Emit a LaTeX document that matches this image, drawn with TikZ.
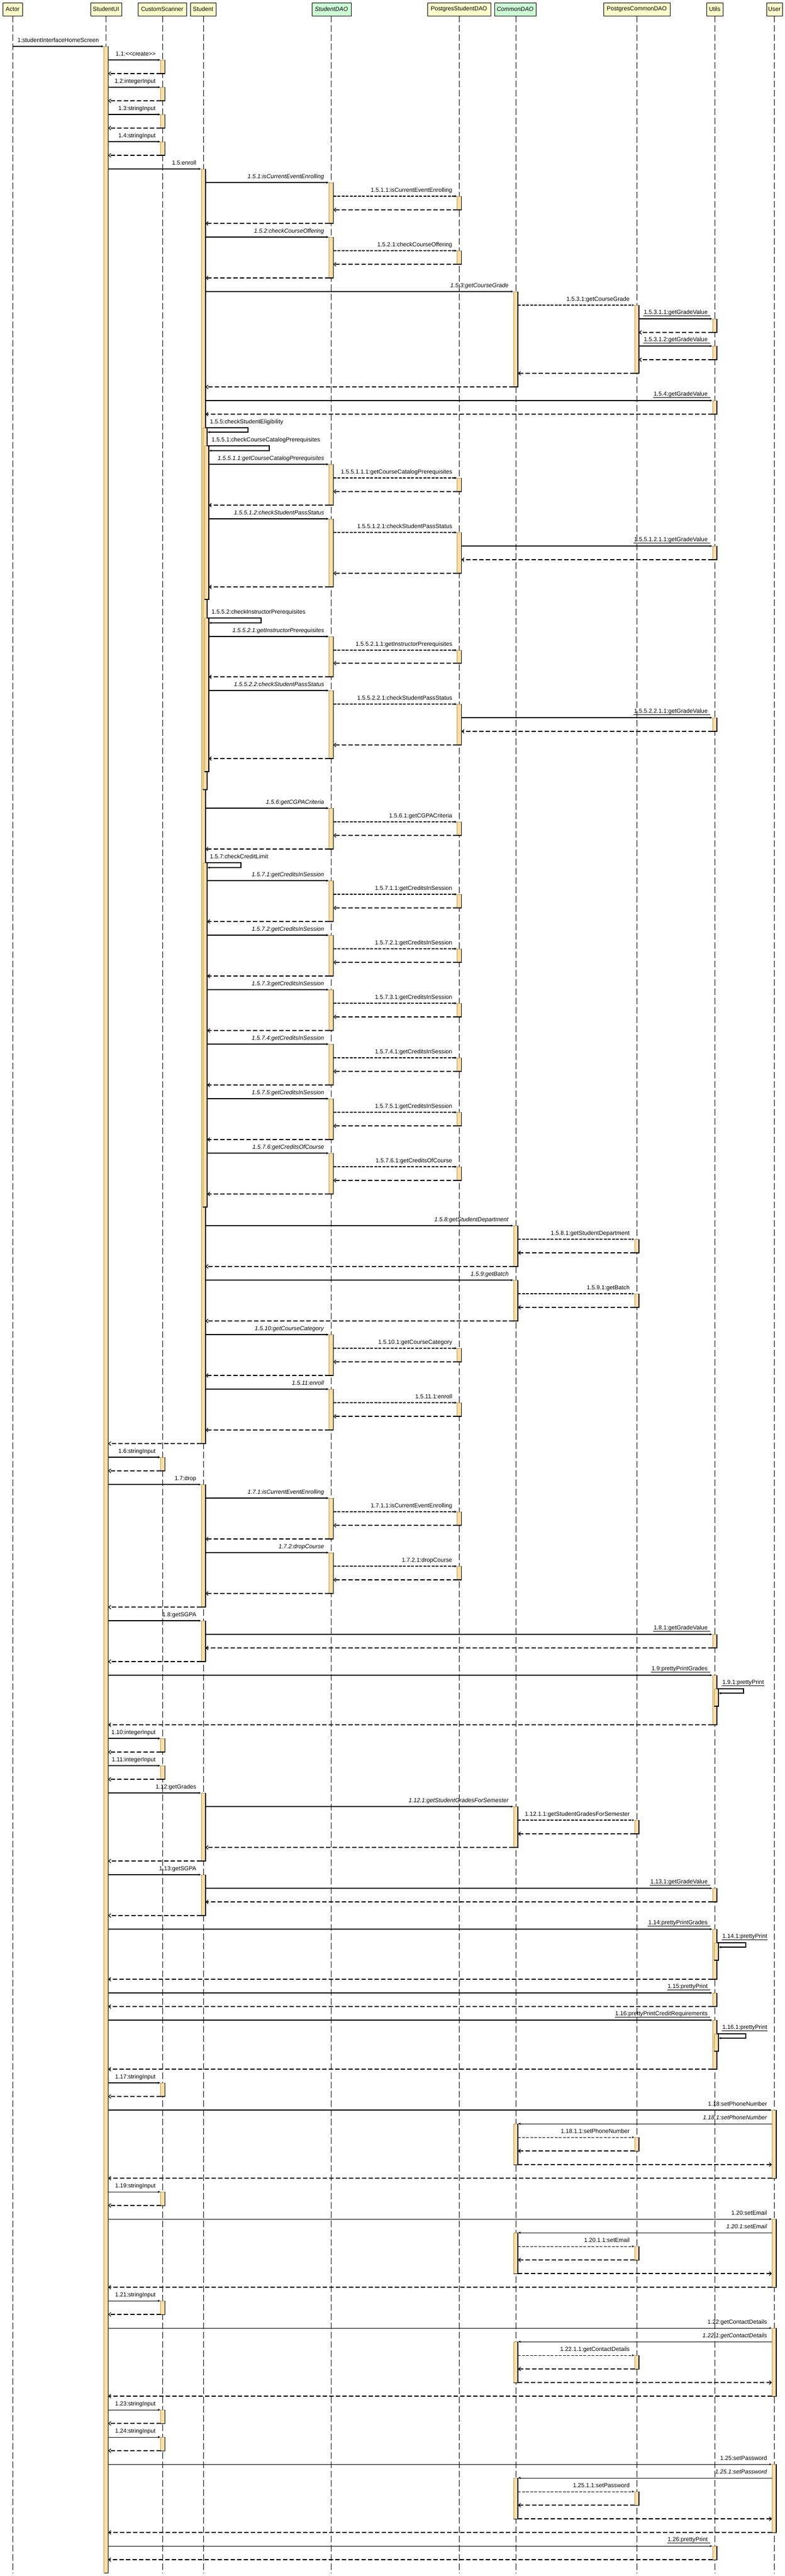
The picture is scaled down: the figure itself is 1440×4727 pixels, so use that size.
\documentclass[tikz,border=0pt]{standalone}
\usepackage{fontspec}
\setmainfont{Liberation Sans}
\usetikzlibrary{arrows.meta}
\definecolor{barfill}{RGB}{255,222,165}
\definecolor{baredgec}{RGB}{190,150,80}
\definecolor{headyellow}{RGB}{255,255,204}
\definecolor{headgreen}{RGB}{204,255,214}
\newcommand\lblfont{\fontsize{10.8}{13}\selectfont}
\tikzset{
  lbl/.style={inner sep=0pt, outer sep=0pt, font=\lblfont},
  call/.style={line width=1.1pt, -{Latex[length=4.5pt,width=4pt]}},
  dcall/.style={line width=1.1pt, dash pattern=on 5pt off 2.5pt, -{Latex[length=4.5pt,width=4pt]}},
  ret/.style={line width=1.2pt, dash pattern=on 8pt off 4pt, -{Straight Barb[length=4pt,width=7pt]}},
  life/.style={line width=0.8pt, dash pattern=on 12pt off 5pt},
  uline/.style={line width=1pt},
  head/.style={draw, line width=0.8pt, fill=headyellow, minimum height=24pt, inner sep=1pt, font=\lblfont},
  headg/.style={head, fill=headgreen, font=\lblfont\itshape},
  headedge/.style={line width=1.6pt},
  actbox/.style={fill=barfill, inner sep=0pt, outer sep=0pt, minimum width=8pt},
  baredge/.style={line width=1.1pt},
  baredgel/.style={line width=0.6pt, baredgec}
}
\newcommand\actbar[5]{%
  \pgfmathsetmacro\bh{#5-#4}%
  \node[actbox, minimum height=\bh pt, anchor=north] (#1) at ({#2+3*#3},#4) {};
  \draw[baredgel] (#1.south west) -- (#1.north west) -- (#1.north east);
  \draw[baredge] (#1.north east) -- (#1.south east) -- (#1.south west);}
\newcommand\callm[7]{%
  \coordinate (#1s) at (#2,#4);
  \coordinate (#1e) at (#3,#4);
  \draw[#5] (#1s) -- (#1e);
  \node[lbl,anchor=base east] (#1l) at (#6-13,#4-8) {#7};}
\newcommand\callu[6]{%
  \coordinate (#1s) at (#2,#4);
  \coordinate (#1e) at (#3,#4);
  \draw[call] (#1s) -- (#1e);
  \node[lbl,anchor=base east] (#1l) at (#5-13,#4-9) {#6};
  \draw[uline] ([xshift=-1pt,yshift=-3pt]#1l.base west) -- ([xshift=5pt,yshift=-3pt]#1l.base east);}
\newcommand\retm[4]{%
  \coordinate (#1s) at (#2,#4);
  \coordinate (#1e) at (#3,#4);
  \draw[ret] (#1s) -- (#1e);}
\newcommand\selfm[7]{%
  \coordinate (#1s) at (#2,#4);
  \coordinate (#1a) at (#3,#4);
  \coordinate (#1b) at (#3,#5);
  \coordinate (#1e) at (#6,#5);
  \draw[call] (#1s) -- (#1a) -- (#1b) -- (#1e);
  \node[lbl,anchor=base west] (#1l) at (#2+8,#4-8) {#7};}
\newcommand\selfu[7]{%
  \coordinate (#1s) at (#2,#4);
  \coordinate (#1a) at (#3,#4);
  \coordinate (#1b) at (#3,#5);
  \coordinate (#1e) at (#6,#5);
  \draw[call] (#1s) -- (#1a) -- (#1b) -- (#1e);
  \node[lbl,anchor=base west] (#1l) at (#2+10,#4-9) {#7};
  \draw[uline] ([xshift=-1pt,yshift=-3pt]#1l.base west) -- ([xshift=1pt,yshift=-3pt]#1l.base east);}
\begin{document}
\begin{tikzpicture}[x=1pt,y=-1pt]
\useasboundingbox (0,0) rectangle (1440,4727);
\fill[white] (0,0) rectangle (1440,4727);
\coordinate (bottom) at (0,4722);
% ---------- headers ----------
\node[head, minimum width=36pt]  (hA)  at (23,17)    {Actor};
\node[head, minimum width=57pt]  (hUI) at (194.5,17) {StudentUI};
\node[head, minimum width=89pt]  (hCS) at (297.5,17) {CustomScanner};
\node[head, minimum width=47pt]  (hST) at (372.5,17) {Student};
\node[headg, minimum width=72pt] (hSD) at (608,17)   {StudentDAO};
\node[head, minimum width=116pt] (hPS) at (842,17)   {PostgresStudentDAO};
\node[headg, minimum width=76pt] (hCD) at (945,17)   {CommonDAO};
\node[head, minimum width=122pt] (hPC) at (1168,17)  {PostgresCommonDAO};
\node[head, minimum width=30pt]  (hUT) at (1311,17)  {Utils};
\node[head, minimum width=29pt]  (hUS) at (1420.5,17) {User};
\foreach \h in {hA,hUI,hCS,hST,hSD,hPS,hCD,hPC,hUT,hUS}{
  \draw[headedge] (\h.north east) -- (\h.south east) -- (\h.south west);
}
% ---------- lifelines ----------
\foreach \h/\x in {hA/23,hUI/194.5,hCS/298.5,hST/373,hSD/607.5,hPS/842.5,hCD/946,hPC/1168,hUT/1311,hUS/1420}{
  \coordinate (l\h) at (\x,4722);
  \coordinate (t\h) at (\x,29);
  \draw[life] (t\h) -- (l\h);
}
% ---------- activation bars ----------
\actbar{bUI}{194.5}{0}{85}{4721}
\foreach \a/\b [count=\i] in {110/135,160/185,210/235,260/285,2674/2699,3190/3215,3240/3265,3822/3847,4022/4047,4222/4247,4422/4447,4472/4497}{
  \actbar{bCS\i}{298.5}{0}{\a}{\b}}
\foreach \a/\b [count=\i] in {310/2649,2724/2949,2974/3049,3290/3415,3440/3515}{
  \actbar{bST\i}{373}{0}{\a}{\b}}
\foreach \a/\b [count=\i] in {785/1449,1583/2215}{
  \actbar{bSTa\i}{373}{1}{\a}{\b}}
\foreach \a/\b [count=\i] in {818/1100,1134/1416}{
  \actbar{bSTb\i}{373}{2}{\a}{\b}}
\foreach \a/\b [count=\i] in {335/410,435/510,852/927,952/1077,1168/1242,1267/1392,1483/1558,1616/1691,1716/1791,1816/1891,1916/1991,2016/2091,2116/2191,2449/2524,2549/2624,2749/2824,2849/2924}{
  \actbar{bSD\i}{607.5}{0}{\a}{\b}}
\foreach \a/\b [count=\i] in {360/385,460/485,877/902,977/1052,1193/1217,1292/1367,1508/1533,1641/1666,1741/1766,1841/1866,1941/1966,2041/2066,2141/2166,2474/2499,2574/2599,2774/2799,2874/2899}{
  \actbar{bPS\i}{842.5}{0}{\a}{\b}}
\foreach \a/\b [count=\i] in {535/710,2249/2324,2349/2424,3315/3390,3897/3972,4097/4172,4297/4372,4547/4622}{
  \actbar{bCD\i}{946}{0}{\a}{\b}}
\foreach \a/\b [count=\i] in {560/685,2274/2299,2374/2399,3340/3365,3922/3947,4122/4147,4322/4347,4572/4597}{
  \actbar{bPC\i}{1168}{0}{\a}{\b}}
\foreach \a/\b [count=\i] in {585/610,635/660,735/760,1002/1027,1317/1342,2999/3024,3074/3165,3465/3490,3540/3632,3657/3682,3707/3797,4672/4697}{
  \actbar{bUT\i}{1311}{0}{\a}{\b}}
\foreach \a/\b [count=\i] in {3099/3131,3565/3597,3732/3764}{
  \actbar{bUTa\i}{1311}{1}{\a}{\b}}
\foreach \a/\b [count=\i] in {3872/3997,4072/4197,4272/4397,4522/4647}{
  \actbar{bUS\i}{1420}{0}{\a}{\b}}
% ---------- messages ----------
\callm{m1}{23}{190.5}{85}{call}{194.5}{1:studentInterfaceHomeScreen}
\callm{m11}{198.5}{294.5}{110}{call}{298.5}{1.1:<\kern0pt<create>\kern0pt>}
\retm{r11}{294.5}{198.5}{135}
\callm{m12}{198.5}{294.5}{160}{call}{298.5}{1.2:integerInput}
\retm{r12}{294.5}{198.5}{185}
\callm{m13}{198.5}{294.5}{210}{call}{298.5}{1.3:stringInput}
\retm{r13}{294.5}{198.5}{235}
\callm{m14}{198.5}{294.5}{260}{call}{298.5}{1.4:stringInput}
\retm{r14}{294.5}{198.5}{285}
\callm{m15}{198.5}{369}{310}{call}{373}{1.5:enroll}
\callm{m151}{377}{603.5}{335}{call}{607.5}{\textit{1.5.1:isCurrentEventEnrolling}}
\callm{m1511}{611.5}{838.5}{360}{dcall}{842.5}{1.5.1.1:isCurrentEventEnrolling}
\retm{r1511}{838.5}{611.5}{385}
\retm{r151}{603.5}{377}{410}
\callm{m152}{377}{603.5}{435}{call}{607.5}{\textit{1.5.2:checkCourseOffering}}
\callm{m1521}{611.5}{838.5}{460}{dcall}{842.5}{1.5.2.1:checkCourseOffering}
\retm{r1521}{838.5}{611.5}{485}
\retm{r152}{603.5}{377}{510}
\callm{m153}{377}{942}{535}{call}{946}{\textit{1.5.3:getCourseGrade}}
\callm{m1531}{950}{1164}{560}{dcall}{1168}{1.5.3.1:getCourseGrade}
\callu{m15311}{1172}{1307}{585}{1311}{1.5.3.1.1:getGradeValue}
\retm{r15311}{1307}{1172}{610}
\callu{m15312}{1172}{1307}{635}{1311}{1.5.3.1.2:getGradeValue}
\retm{r15312}{1307}{1172}{660}
\retm{r1531}{1164}{950}{685}
\retm{r153}{942}{377}{710}
\callu{m154}{377}{1307}{735}{1311}{1.5.4:getGradeValue}
\retm{r154}{1307}{377}{760}
\selfm{m155}{377}{455}{785}{793}{380}{1.5.5:checkStudentEligibility}
\selfm{m1551}{380}{494}{818}{827}{383}{1.5.5.1:checkCourseCatalogPrerequisites}
\callm{m15511}{383}{603.5}{852}{call}{607.5}{\textit{1.5.5.1.1:getCourseCatalogPrerequisites}}
\callm{m155111}{611.5}{838.5}{877}{dcall}{842.5}{1.5.5.1.1.1:getCourseCatalogPrerequisites}
\retm{r155111}{838.5}{611.5}{902}
\retm{r15511}{603.5}{383}{927}
\callm{m15512}{383}{603.5}{952}{call}{607.5}{\textit{1.5.5.1.2:checkStudentPassStatus}}
\callm{m155121}{611.5}{838.5}{977}{dcall}{842.5}{1.5.5.1.2.1:checkStudentPassStatus}
\callu{m1551211}{846.5}{1307}{1002}{1311}{1.5.5.1.2.1.1:getGradeValue}
\retm{r1551211}{1307}{846.5}{1027}
\retm{r155121}{838.5}{611.5}{1052}
\retm{r15512}{603.5}{383}{1077}
\selfm{m1552}{380}{479}{1134}{1143}{383}{1.5.5.2:checkInstructorPrerequisites}
\callm{m15521}{383}{603.5}{1168}{call}{607.5}{\textit{1.5.5.2.1:getInstructorPrerequisites}}
\callm{m155211}{611.5}{838.5}{1193}{dcall}{842.5}{1.5.5.2.1.1:getInstructorPrerequisites}
\retm{r155211}{838.5}{611.5}{1217}
\retm{r15521}{603.5}{383}{1242}
\callm{m15522}{383}{603.5}{1267}{call}{607.5}{\textit{1.5.5.2.2:checkStudentPassStatus}}
\callm{m155221}{611.5}{838.5}{1292}{dcall}{842.5}{1.5.5.2.2.1:checkStudentPassStatus}
\callu{m1552211}{846.5}{1307}{1317}{1311}{1.5.5.2.2.1.1:getGradeValue}
\retm{r1552211}{1307}{846.5}{1342}
\retm{r155221}{838.5}{611.5}{1367}
\retm{r15522}{603.5}{383}{1392}
\callm{m156}{377}{603.5}{1483}{call}{607.5}{\textit{1.5.6:getCGPACriteria}}
\callm{m1561}{611.5}{838.5}{1508}{dcall}{842.5}{1.5.6.1:getCGPACriteria}
\retm{r1561}{838.5}{611.5}{1533}
\retm{r156}{603.5}{377}{1558}
\selfm{m157}{377}{442}{1583}{1592}{380}{1.5.7:checkCreditLimit}
\foreach \k/\y in {1/1616,2/1716,3/1816,4/1916,5/2016}{
  \callm{m157\k}{380}{603.5}{\y}{call}{607.5}{\textit{1.5.7.\k:getCreditsInSession}}
  \callm{m157\k x}{611.5}{838.5}{\y+25}{dcall}{842.5}{1.5.7.\k.1:getCreditsInSession}
  \retm{r157\k x}{838.5}{611.5}{\y+50}
  \retm{r157\k}{603.5}{380}{\y+75}
}
\callm{m1576}{380}{603.5}{2116}{call}{607.5}{\textit{1.5.7.6:getCreditsOfCourse}}
\callm{m15761}{611.5}{838.5}{2141}{dcall}{842.5}{1.5.7.6.1:getCreditsOfCourse}
\retm{r15761}{838.5}{611.5}{2166}
\retm{r1576}{603.5}{380}{2191}
\callm{m158}{377}{942}{2249}{call}{946}{\textit{1.5.8:getStudentDepartment}}
\callm{m1581}{950}{1164}{2274}{dcall}{1168}{1.5.8.1:getStudentDepartment}
\retm{r1581}{1164}{950}{2299}
\retm{r158}{942}{377}{2324}
\callm{m159}{377}{942}{2349}{call}{946}{\textit{1.5.9:getBatch}}
\callm{m1591}{950}{1164}{2374}{dcall}{1168}{1.5.9.1:getBatch}
\retm{r1591}{1164}{950}{2399}
\retm{r159}{942}{377}{2424}
\callm{m1510}{377}{603.5}{2449}{call}{607.5}{\textit{1.5.10:getCourseCategory}}
\callm{m15101}{611.5}{838.5}{2474}{dcall}{842.5}{1.5.10.1:getCourseCategory}
\retm{r15101}{838.5}{611.5}{2499}
\retm{r1510}{603.5}{377}{2524}
\callm{m1511b}{377}{603.5}{2549}{call}{607.5}{\textit{1.5.11:enroll}}
\callm{m15111}{611.5}{838.5}{2574}{dcall}{842.5}{1.5.11.1:enroll}
\retm{r15111}{838.5}{611.5}{2599}
\retm{r1511b}{603.5}{377}{2624}
\retm{r15}{369}{198.5}{2649}
\callm{m16}{198.5}{294.5}{2674}{call}{298.5}{1.6:stringInput}
\retm{r16}{294.5}{198.5}{2699}
\callm{m17}{198.5}{369}{2724}{call}{373}{1.7:drop}
\callm{m171}{377}{603.5}{2749}{call}{607.5}{\textit{1.7.1:isCurrentEventEnrolling}}
\callm{m1711}{611.5}{838.5}{2774}{dcall}{842.5}{1.7.1.1:isCurrentEventEnrolling}
\retm{r1711}{838.5}{611.5}{2799}
\retm{r171}{603.5}{377}{2824}
\callm{m172}{377}{603.5}{2849}{call}{607.5}{\textit{1.7.2:dropCourse}}
\callm{m1721}{611.5}{838.5}{2874}{dcall}{842.5}{1.7.2.1:dropCourse}
\retm{r1721}{838.5}{611.5}{2899}
\retm{r172}{603.5}{377}{2924}
\retm{r17}{369}{198.5}{2949}
\callm{m18}{198.5}{369}{2974}{call}{373}{1.8:getSGPA}
\callu{m181}{377}{1307}{2999}{1311}{1.8.1:getGradeValue}
\retm{r181}{1307}{377}{3024}
\retm{r18}{369}{198.5}{3049}
\callu{m19}{198.5}{1307}{3074}{1311}{1.9:prettyPrintGrades}
\selfu{m191}{1315}{1364}{3099}{3107}{1318}{1.9.1:prettyPrint}
\retm{r19}{1307}{198.5}{3165}
\callm{m110}{198.5}{294.5}{3190}{call}{298.5}{1.10:integerInput}
\retm{r110}{294.5}{198.5}{3215}
\callm{m111}{198.5}{294.5}{3240}{call}{298.5}{1.11:integerInput}
\retm{r111}{294.5}{198.5}{3265}
\callm{m112}{198.5}{369}{3290}{call}{373}{1.12:getGrades}
\callm{m1121}{377}{942}{3315}{call}{946}{\textit{1.12.1:getStudentGradesForSemester}}
\callm{m11211}{950}{1164}{3340}{dcall}{1168}{1.12.1.1:getStudentGradesForSemester}
\retm{r11211}{1164}{950}{3365}
\retm{r1121}{942}{377}{3390}
\retm{r112}{369}{198.5}{3415}
\callm{m113}{198.5}{369}{3440}{call}{373}{1.13:getSGPA}
\callu{m1131}{377}{1307}{3465}{1311}{1.13.1:getGradeValue}
\retm{r1131}{1307}{377}{3490}
\retm{r113}{369}{198.5}{3515}
\callu{m114}{198.5}{1307}{3540}{1311}{1.14:prettyPrintGrades}
\selfu{m1141}{1315}{1368}{3565}{3573}{1318}{1.14.1:prettyPrint}
\retm{r114}{1307}{198.5}{3632}
\callu{m115}{198.5}{1307}{3657}{1311}{1.15:prettyPrint}
\retm{r115}{1307}{198.5}{3682}
\callu{m116}{198.5}{1307}{3707}{1311}{1.16:prettyPrintCreditRequirements}
\selfu{m1161}{1315}{1368}{3732}{3740}{1318}{1.16.1:prettyPrint}
\retm{r116}{1307}{198.5}{3797}
\callm{m117}{198.5}{294.5}{3822}{call}{298.5}{1.17:stringInput}
\retm{r117}{294.5}{198.5}{3847}
\callm{m118}{198.5}{1416}{3872}{call}{1420}{1.18:setPhoneNumber}
\callm{m1181}{1416}{950}{3897}{call}{1420}{\textit{1.18.1:setPhoneNumber}}
\callm{m11811}{950}{1164}{3922}{dcall}{1168}{1.18.1.1:setPhoneNumber}
\retm{r11811}{1164}{950}{3947}
\retm{r1181}{950}{1416}{3972}
\retm{r118}{1416}{198.5}{3997}
\callm{m119}{198.5}{294.5}{4022}{call}{298.5}{1.19:stringInput}
\retm{r119}{294.5}{198.5}{4047}
\callm{m120}{198.5}{1416}{4072}{call}{1420}{1.20:setEmail}
\callm{m1201}{1416}{950}{4097}{call}{1420}{\textit{1.20.1:setEmail}}
\callm{m12011}{950}{1164}{4122}{dcall}{1168}{1.20.1.1:setEmail}
\retm{r12011}{1164}{950}{4147}
\retm{r1201}{950}{1416}{4172}
\retm{r120}{1416}{198.5}{4197}
\callm{m121}{198.5}{294.5}{4222}{call}{298.5}{1.21:stringInput}
\retm{r121}{294.5}{198.5}{4247}
\callm{m122}{198.5}{1416}{4272}{call}{1420}{1.22:getContactDetails}
\callm{m1221}{1416}{950}{4297}{call}{1420}{\textit{1.22.1:getContactDetails}}
\callm{m12211}{950}{1164}{4322}{dcall}{1168}{1.22.1.1:getContactDetails}
\retm{r12211}{1164}{950}{4347}
\retm{r1221}{950}{1416}{4372}
\retm{r122}{1416}{198.5}{4397}
\callm{m123}{198.5}{294.5}{4422}{call}{298.5}{1.23:stringInput}
\retm{r123}{294.5}{198.5}{4447}
\callm{m124}{198.5}{294.5}{4472}{call}{298.5}{1.24:stringInput}
\retm{r124}{294.5}{198.5}{4497}
\callm{m125}{198.5}{1416}{4522}{call}{1420}{1.25:setPassword}
\callm{m1251}{1416}{950}{4547}{call}{1420}{\textit{1.25.1:setPassword}}
\callm{m12511}{950}{1164}{4572}{dcall}{1168}{1.25.1.1:setPassword}
\retm{r12511}{1164}{950}{4597}
\retm{r1251}{950}{1416}{4622}
\retm{r125}{1416}{198.5}{4647}
\callu{m126}{198.5}{1307}{4672}{1311}{1.26:prettyPrint}
\retm{r126}{1307}{198.5}{4697}
\end{tikzpicture}
\end{document}
